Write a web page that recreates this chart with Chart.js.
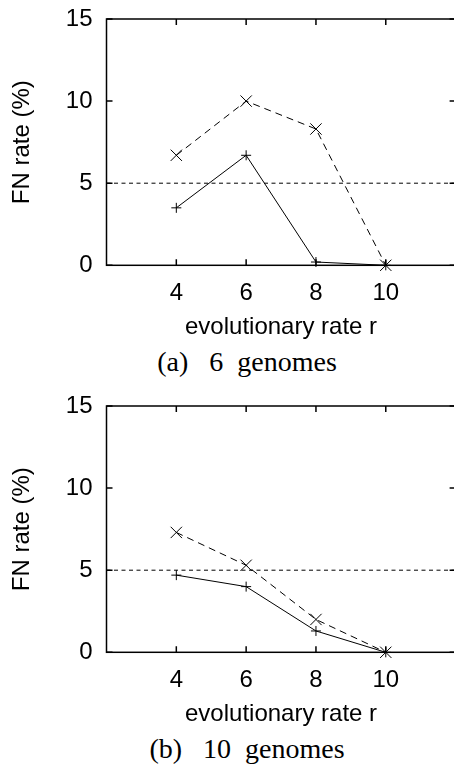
<!DOCTYPE html>
<html>
<head>
<meta charset="utf-8">
<script src="https://cdn.jsdelivr.net/npm/chart.js@4"></script>
<style>
  html, body { margin: 0; padding: 0; background: #fff; overflow: hidden; }
  body { width: 454px; height: 767px; position: relative; }
  .box { position: absolute; left: 0; width: 460px; height: 345px; }
  .caption {
    position: absolute; left: 97px; width: 300px; text-align: center;
    font-family: 'Liberation Serif', 'Times New Roman', serif; font-size: 28px;
    white-space: pre; color: #000; line-height: 31px;
  }
</style>
</head>
<body>
<div class="box" style="top:0px"><canvas id="chartA" width="460" height="345"></canvas></div>
<div class="box" style="top:387px"><canvas id="chartB" width="460" height="345"></canvas></div>
<div class="caption" style="top:346px">(a)   6  genomes</div>
<div class="caption" style="top:733px">(b)   10  genomes</div>
<script>
const rates = [4, 6, 8, 10];
const xTicks = [4, 6, 8, 10];
const yTicks = [0, 5, 10, 15];
const threshold = 5;

// 6 genomes
const fn6Dashed = [6.7, 10, 8.3, 0];
const fn6Solid = [3.5, 6.7, 0.2, 0];
// 10 genomes
const fn10Dashed = [7.3, 5.3, 2.0, 0];
const fn10Solid = [4.7, 4.0, 1.3, 0];

const font = { family: "'Liberation Sans', Arial, sans-serif", size: 24 };

// frame + inward ticks on all four sides, like gnuplot
const framePlugin = {
    id: 'frame',
    afterDraw(chart) {
        const { ctx, chartArea: a, scales } = chart;
        ctx.save();
        ctx.strokeStyle = '#000';
        ctx.lineWidth = 1.5;
        ctx.strokeRect(a.left, a.top, a.right - a.left, a.bottom - a.top);
        const len = 6;
        ctx.beginPath();
        scales.x.ticks.forEach(t => {
            const px = scales.x.getPixelForValue(t.value);
            ctx.moveTo(px, a.bottom); ctx.lineTo(px, a.bottom - len);
            ctx.moveTo(px, a.top); ctx.lineTo(px, a.top + len);
        });
        scales.y.ticks.forEach(t => {
            const py = scales.y.getPixelForValue(t.value);
            ctx.moveTo(a.left, py); ctx.lineTo(a.left + len, py);
            ctx.moveTo(a.right, py); ctx.lineTo(a.right - len, py);
        });
        ctx.stroke();
        ctx.restore();
    }
};

function noPad(s) {
    s.paddingTop = 0; s.paddingBottom = 0; s.paddingLeft = 0; s.paddingRight = 0;
}

function makeChart(id, dashedVals, solidVals) {
    const pts = vals => rates.map((r, i) => ({ x: r, y: vals[i] }));
    return new Chart(document.getElementById(id).getContext('2d'), {
        type: 'line',
        data: {
            datasets: [{
                label: 'threshold',
                data: [{ x: 2, y: threshold }, { x: 12, y: threshold }],
                borderColor: '#000',
                borderWidth: 1,
                borderDash: [4, 3.5],
                pointRadius: 0,
                fill: false
            }, {
                label: 'solid',
                data: pts(solidVals),
                borderColor: '#000',
                borderWidth: 1,
                pointStyle: 'cross',
                pointRadius: 5,
                pointBorderColor: '#000',
                pointBorderWidth: 1,
                fill: false,
                tension: 0,
                clip: false
            }, {
                label: 'dashed',
                data: pts(dashedVals),
                borderColor: '#000',
                borderWidth: 1,
                borderDash: [7, 5],
                pointStyle: 'crossRot',
                pointRadius: 8,
                pointBorderColor: '#000',
                pointBorderWidth: 1,
                fill: false,
                tension: 0,
                clip: false
            }]
        },
        options: {
            responsive: false,
            maintainAspectRatio: false,
            animation: false,
            devicePixelRatio: 1,
            layout: { autoPadding: false, padding: { top: 19, right: 4.4, bottom: 0, left: 0 } },
            plugins: { legend: { display: false }, tooltip: { enabled: false } },
            scales: {
                x: {
                    type: 'linear', min: 2, max: 12,
                    afterBuildTicks: s => { s.ticks = xTicks.map(v => ({ value: v })); },
                    afterFit: s => { s.height = 79.7; noPad(s); },
                    grid: { display: false, drawTicks: false },
                    border: { display: false },
                    ticks: { color: '#000', font: font, padding: 14, maxRotation: 0 },
                    title: { display: true, text: 'evolutionary rate r', color: '#000', font: font,
                             padding: { top: 0, bottom: 3.6 } }
                },
                y: {
                    type: 'linear', min: 0, max: 15,
                    afterBuildTicks: s => { s.ticks = yTicks.map(v => ({ value: v })); },
                    afterFit: s => { s.width = 106.5; noPad(s); },
                    grid: { display: false, drawTicks: false },
                    border: { display: false },
                    ticks: { color: '#000', font: font, padding: 14 },
                    title: { display: true, text: 'FN rate (%)', color: '#000', font: font,
                             padding: { top: 7.6, bottom: 0 } }
                }
            }
        },
        plugins: [framePlugin]
    });
}

makeChart('chartA', fn6Dashed, fn6Solid);
makeChart('chartB', fn10Dashed, fn10Solid);
</script>
</body>
</html>
